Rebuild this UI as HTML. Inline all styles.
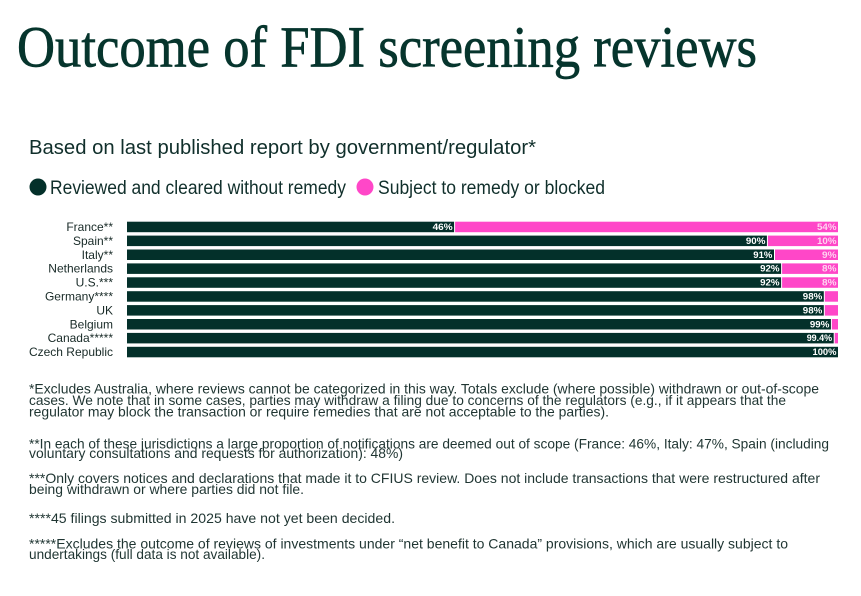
<!DOCTYPE html>
<html>
<head>
<meta charset="utf-8">
<style>
html,body{margin:0;padding:0;background:#ffffff;}
svg{display:block;}
</style>
</head>
<body>
<svg width="861" height="596" viewBox="0 0 861 596" xmlns="http://www.w3.org/2000/svg">
<rect width="861" height="596" fill="#ffffff"/>
<!-- Title -->
<text x="17" y="66.5" font-family="Liberation Serif, serif" font-size="58" fill="#06352d" stroke="#06352d" stroke-width="0.7" textLength="740" lengthAdjust="spacingAndGlyphs">Outcome of FDI screening reviews</text>
<!-- Subtitle -->
<text x="29" y="154" font-family="Liberation Sans, sans-serif" font-size="20" fill="#102f2b" textLength="507" lengthAdjust="spacingAndGlyphs">Based on last published report by government/regulator*</text>
<!-- Legend -->
<circle cx="38" cy="187" r="8.5" fill="#03302a"/>
<text x="50" y="194" font-family="Liberation Sans, sans-serif" font-size="19" fill="#102f2b" textLength="296" lengthAdjust="spacingAndGlyphs">Reviewed and cleared without remedy</text>
<circle cx="365" cy="187" r="8.5" fill="#ff47c8"/>
<text x="378" y="194" font-family="Liberation Sans, sans-serif" font-size="19" fill="#102f2b" textLength="227" lengthAdjust="spacingAndGlyphs">Subject to remedy or blocked</text>

<!-- Bars -->
<g font-family="Liberation Sans, sans-serif">
<g font-size="12" fill="#182a27" text-anchor="end">
<text x="113" y="231">France**</text>
<text x="113" y="244.9">Spain**</text>
<text x="113" y="258.8">Italy**</text>
<text x="113" y="272.7">Netherlands</text>
<text x="113" y="286.6">U.S.***</text>
<text x="113" y="300.5">Germany****</text>
<text x="113" y="314.4">UK</text>
<text x="113" y="328.3">Belgium</text>
<text x="113" y="342.2">Canada*****</text>
<text x="113" y="356.1">Czech Republic</text>
</g>

<!-- France 46 -->
<rect x="127" y="221.7" width="327.1" height="10.5" fill="#03302a"/>
<rect x="455.1" y="221.7" width="382.9" height="10.5" fill="#ff47c8"/>
<!-- Spain 90 -->
<rect x="127" y="235.6" width="639.9" height="10.5" fill="#03302a"/>
<rect x="767.9" y="235.6" width="70.1" height="10.5" fill="#ff47c8"/>
<!-- Italy 91 -->
<rect x="127" y="249.5" width="647" height="10.5" fill="#03302a"/>
<rect x="775" y="249.5" width="63" height="10.5" fill="#ff47c8"/>
<!-- Netherlands 92 -->
<rect x="127" y="263.4" width="654.1" height="10.5" fill="#03302a"/>
<rect x="782.1" y="263.4" width="55.9" height="10.5" fill="#ff47c8"/>
<!-- US 92 -->
<rect x="127" y="277.3" width="654.1" height="10.5" fill="#03302a"/>
<rect x="782.1" y="277.3" width="55.9" height="10.5" fill="#ff47c8"/>
<!-- Germany 98 -->
<rect x="127" y="291.2" width="696.8" height="10.5" fill="#03302a"/>
<rect x="824.8" y="291.2" width="13.2" height="10.5" fill="#ff47c8"/>
<!-- UK 98 -->
<rect x="127" y="305.1" width="696.8" height="10.5" fill="#03302a"/>
<rect x="824.8" y="305.1" width="13.2" height="10.5" fill="#ff47c8"/>
<!-- Belgium 99 -->
<rect x="127" y="319" width="703.9" height="10.5" fill="#03302a"/>
<rect x="831.9" y="319" width="6.1" height="10.5" fill="#ff47c8"/>
<!-- Canada 99.4 -->
<rect x="127" y="332.9" width="706.7" height="10.5" fill="#03302a"/>
<rect x="834.7" y="332.9" width="3.3" height="10.5" fill="#ff47c8"/>
<!-- Czech 100 -->
<rect x="127" y="346.8" width="711" height="10.5" fill="#03302a"/>

<g font-size="9" font-weight="bold" fill="#ffffff">
<text x="432.6" y="230" textLength="20" lengthAdjust="spacingAndGlyphs">46%</text>
<text x="745.9" y="243.9" textLength="19.5" lengthAdjust="spacingAndGlyphs">90%</text>
<text x="753.3" y="257.8" textLength="19" lengthAdjust="spacingAndGlyphs">91%</text>
<text x="760.1" y="271.7" textLength="19.5" lengthAdjust="spacingAndGlyphs">92%</text>
<text x="760.1" y="285.6" textLength="19.5" lengthAdjust="spacingAndGlyphs">92%</text>
<text x="802.8" y="299.5" textLength="19.5" lengthAdjust="spacingAndGlyphs">98%</text>
<text x="802.8" y="313.4" textLength="19.5" lengthAdjust="spacingAndGlyphs">98%</text>
<text x="809.9" y="327.3" textLength="19.5" lengthAdjust="spacingAndGlyphs">99%</text>
<text x="806.7" y="341.2" textLength="25.5" lengthAdjust="spacingAndGlyphs">99.4%</text>
<text x="812.5" y="355.1" textLength="24" lengthAdjust="spacingAndGlyphs">100%</text>
</g>
<g font-size="9" font-weight="bold" fill="#ffd3f1">
<text x="817" y="230" textLength="19.5" lengthAdjust="spacingAndGlyphs">54%</text>
<text x="817" y="243.9" textLength="19.5" lengthAdjust="spacingAndGlyphs">10%</text>
<text x="822" y="257.8" textLength="14.5" lengthAdjust="spacingAndGlyphs">9%</text>
<text x="822" y="271.7" textLength="14.5" lengthAdjust="spacingAndGlyphs">8%</text>
<text x="822" y="285.6" textLength="14.5" lengthAdjust="spacingAndGlyphs">8%</text>
</g>
</g>

<!-- Footnotes -->
<g font-family="Liberation Sans, sans-serif" font-size="14" fill="#1f3532">
<text x="29" y="393.4" textLength="790" lengthAdjust="spacingAndGlyphs">*Excludes Australia, where reviews cannot be categorized in this way. Totals exclude (where possible) withdrawn or out-of-scope</text>
<text x="29" y="405.2" textLength="757" lengthAdjust="spacingAndGlyphs">cases. We note that in some cases, parties may withdraw a filing due to concerns of the regulators (e.g., if it appears that the</text>
<text x="29" y="416.7" textLength="580" lengthAdjust="spacingAndGlyphs">regulator may block the transaction or require remedies that are not acceptable to the parties).</text>
<text x="29" y="448.4" textLength="800" lengthAdjust="spacingAndGlyphs">**In each of these jurisdictions a large proportion of notifications are deemed out of scope (France: 46%, Italy: 47%, Spain (including</text>
<text x="29" y="458.2" textLength="374" lengthAdjust="spacingAndGlyphs">voluntary consultations and requests for authorization): 48%)</text>
<text x="29" y="483.2" textLength="791" lengthAdjust="spacingAndGlyphs">***Only covers notices and declarations that made it to CFIUS review. Does not include transactions that were restructured after</text>
<text x="29" y="494.2" textLength="275" lengthAdjust="spacingAndGlyphs">being withdrawn or where parties did not file.</text>
<text x="29" y="523.2" textLength="366" lengthAdjust="spacingAndGlyphs">****45 filings submitted in 2025 have not yet been decided.</text>
<text x="29" y="548.3" textLength="759" lengthAdjust="spacingAndGlyphs">*****Excludes the outcome of reviews of investments under “net benefit to Canada” provisions, which are usually subject to</text>
<text x="29" y="559.2" textLength="236" lengthAdjust="spacingAndGlyphs">undertakings (full data is not available).</text>
</g>
</svg>
</body>
</html>
